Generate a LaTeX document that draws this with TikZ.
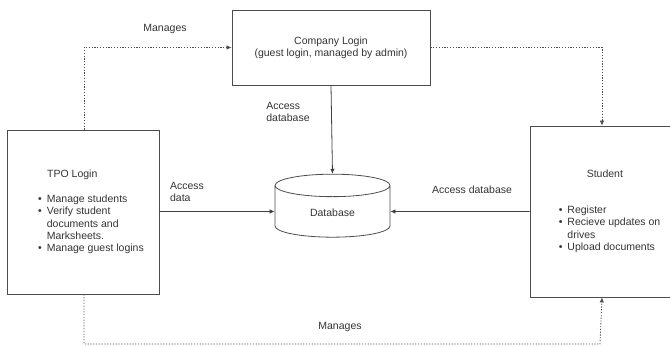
\documentclass[tikz,border=0pt]{standalone}
\usepackage{fontspec}
\setmainfont{Liberation Sans}
\usetikzlibrary{arrows.meta,shapes.geometric}

\tikzset{
    block/.style={draw=black!70, line width=0.8pt, rectangle, inner sep=0pt},
    store/.style={draw=black!70, line width=0.8pt, cylinder, shape border rotate=90,
        aspect=0.5, minimum width=115pt, minimum height=63pt, inner sep=0pt},
    flow/.style={draw=black!75, line width=0.8pt, -{Latex[length=5pt,width=4.5pt]}},
    manages/.style={draw=black!70, line width=0.8pt, dash pattern=on 1.2pt off 1.6pt,
        -{Latex[length=5pt,width=4.5pt]}},
    lbl/.style={inner sep=0pt, align=left}
}

\begin{document}
\begin{tikzpicture}[x=1pt, y=-1pt, font=\fontsize{10.5}{12.3}\selectfont, text=black!80]
        \useasboundingbox (0,0) rectangle (670,347);

        \node[block, minimum width=198pt, minimum height=75pt, align=center] (company) at (331,47.5)
            {Company Login\\(guest login, managed by admin)};

        \node[block, minimum width=152pt, minimum height=164pt] (tpo) at (83,212)
            {\begin{tabular}{@{\hspace{16pt}}l@{\hspace{5pt}}l@{}}
                \multicolumn{2}{@{\hspace{16pt}}l}{\hspace{9pt}TPO Login}\\[13pt]
                \textbullet & Manage students\\
                \textbullet & Verify student\\
                            & documents and\\
                            & Marksheets.\\
                \textbullet & Manage guest logins
            \end{tabular}};

        \node[block, minimum width=140pt, minimum height=171pt] (student) at (600,211.5)
            {\begin{tabular}{@{\hspace{19pt}}l@{\hspace{5pt}}l@{}}
                \multicolumn{2}{@{\hspace{19pt}}l}{\hspace{28pt}Student}\\[24pt]
                \textbullet & Register\\
                \textbullet & Recieve updates on\\
                            & drives\\
                \textbullet & Upload documents
            \end{tabular}};

        \node[store] (db) at (332.5,211.5) {\raisebox{-10pt}{Database}};

        % access links
        \draw[flow] (company.south) -- (db.north);
        \draw[flow] (tpo.east |- db.center) -- (db.west);
        \draw[flow] (student.west |- db.center) -- (db.east);

        \node[lbl] (acc1) at (288,112) {Access\\database};
        \node[lbl] (acc2) at (187,192) {Access\\data};
        \node[lbl] (acc3) at (472,190) {Access database};

        % manages links
        \coordinate (bend) at (84,344);
        \draw[manages] ([xshift=1pt]tpo.north) |- (company.west);
        \draw[manages] (company.east) -| ([xshift=2pt]student.north);
        \draw[manages] ([xshift=1pt]tpo.south) |- (bend -| student.south) -- ([xshift=2pt]student.south);

        \node[lbl] (man1) at (165,29) {Manages};
        \node[lbl] (man2) at (340,327) {Manages};

    \end{tikzpicture}
\end{document}
